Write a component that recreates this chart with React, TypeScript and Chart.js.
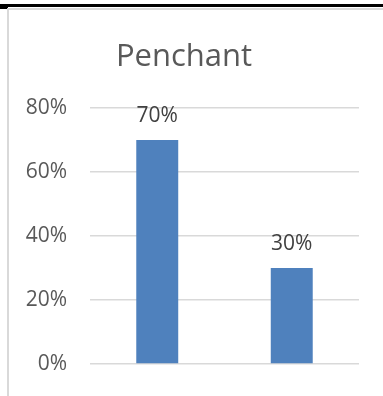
import React, { useEffect, useRef } from "react";
import { Chart, registerables } from "chart.js";

Chart.register(...registerables);

// Chart data
const categories: string[] = ["", ""];
const shares: number[] = [0.7, 0.3];
const yTicks: number[] = [0, 0.2, 0.4, 0.6, 0.8];
const titleText = "Penchant";

const FONT = "'Open Sans', 'Noto Sans', sans-serif";
const BAR_BLUE = "#4f81bd";
const GRID = "#d9d9d9";

const pct = (v: number) => `${Math.round(v * 100)}%`;

// Writes each bar's value just above its top
const valueLabels = {
  id: "valueLabels",
  afterDatasetsDraw(chart: Chart) {
    const ctx = chart.ctx;
    const meta = chart.getDatasetMeta(0);
    ctx.save();
    ctx.font = `21px ${FONT}`;
    ctx.fillStyle = "#404040";
    ctx.textAlign = "center";
    ctx.textBaseline = "alphabetic";
    meta.data.forEach((bar: any, i: number) => {
      const v = chart.data.datasets[0].data[i] as number;
      ctx.fillText(pct(v), bar.x, bar.y - 18);
    });
    ctx.restore();
  },
};

export default function App() {
  const canvasRef = useRef<HTMLCanvasElement | null>(null);

  useEffect(() => {
    if (!canvasRef.current) return;
    const chart = new Chart(canvasRef.current, {
      type: "bar",
      data: {
        labels: categories,
        datasets: [
          {
            data: shares,
            backgroundColor: BAR_BLUE,
            borderWidth: 0,
            categoryPercentage: 1,
            barPercentage: 0.312,
          },
        ],
      },
      options: {
        responsive: false,
        animation: false,
        events: [],
        layout: { padding: { left: 0, right: 28, top: 0, bottom: 32 } },
        plugins: {
          legend: { display: false },
          tooltip: { enabled: false },
          title: {
            display: true,
            text: titleText,
            color: "#595959",
            font: { family: FONT, size: 31, weight: "normal" as any, lineHeight: 1.2 },
            padding: { top: 30, bottom: 31.8 },
          },
        },
        scales: {
          x: { display: false },
          y: {
            min: 0,
            max: 0.8,
            afterBuildTicks: (scale: any) => {
              scale.ticks = yTicks.map((value) => ({ value }));
            },
            afterFit: (scale: any) => {
              scale.width = 81;
            },
            border: { display: false },
            grid: {
              color: GRID,
              lineWidth: 1.5,
              drawTicks: true,
              tickLength: 23,
              tickColor: "rgba(0,0,0,0)",
            },
            ticks: {
              padding: 0,
              color: "#595959",
              font: { family: FONT, size: 21 },
              callback: (v: any) => pct(Number(v)),
            },
          },
        },
      },
      plugins: [valueLabels],
    });
    return () => chart.destroy();
  }, []);

  return (
    <div
      style={{
        position: "fixed",
        left: 0,
        top: 0,
        width: 383,
        height: 396,
        overflow: "hidden",
        background: "#ffffff",
      }}
    >
      <div style={{ position: "absolute", left: 0, top: 4, width: 383, height: 3, background: "#000" }} />
      <div style={{ position: "absolute", left: 0, top: 7, width: 8, height: 2, background: "#000" }} />
      <div style={{ position: "absolute", left: 8, top: 8, width: 383, height: 2, background: GRID }} />
      <div style={{ position: "absolute", left: 7, top: 8, width: 2, height: 400, background: GRID }} />
      <canvas
        ref={canvasRef}
        width={378}
        height={387}
        style={{ position: "absolute", left: 9, top: 9, width: 378, height: 387 }}
      />
    </div>
  );
}
